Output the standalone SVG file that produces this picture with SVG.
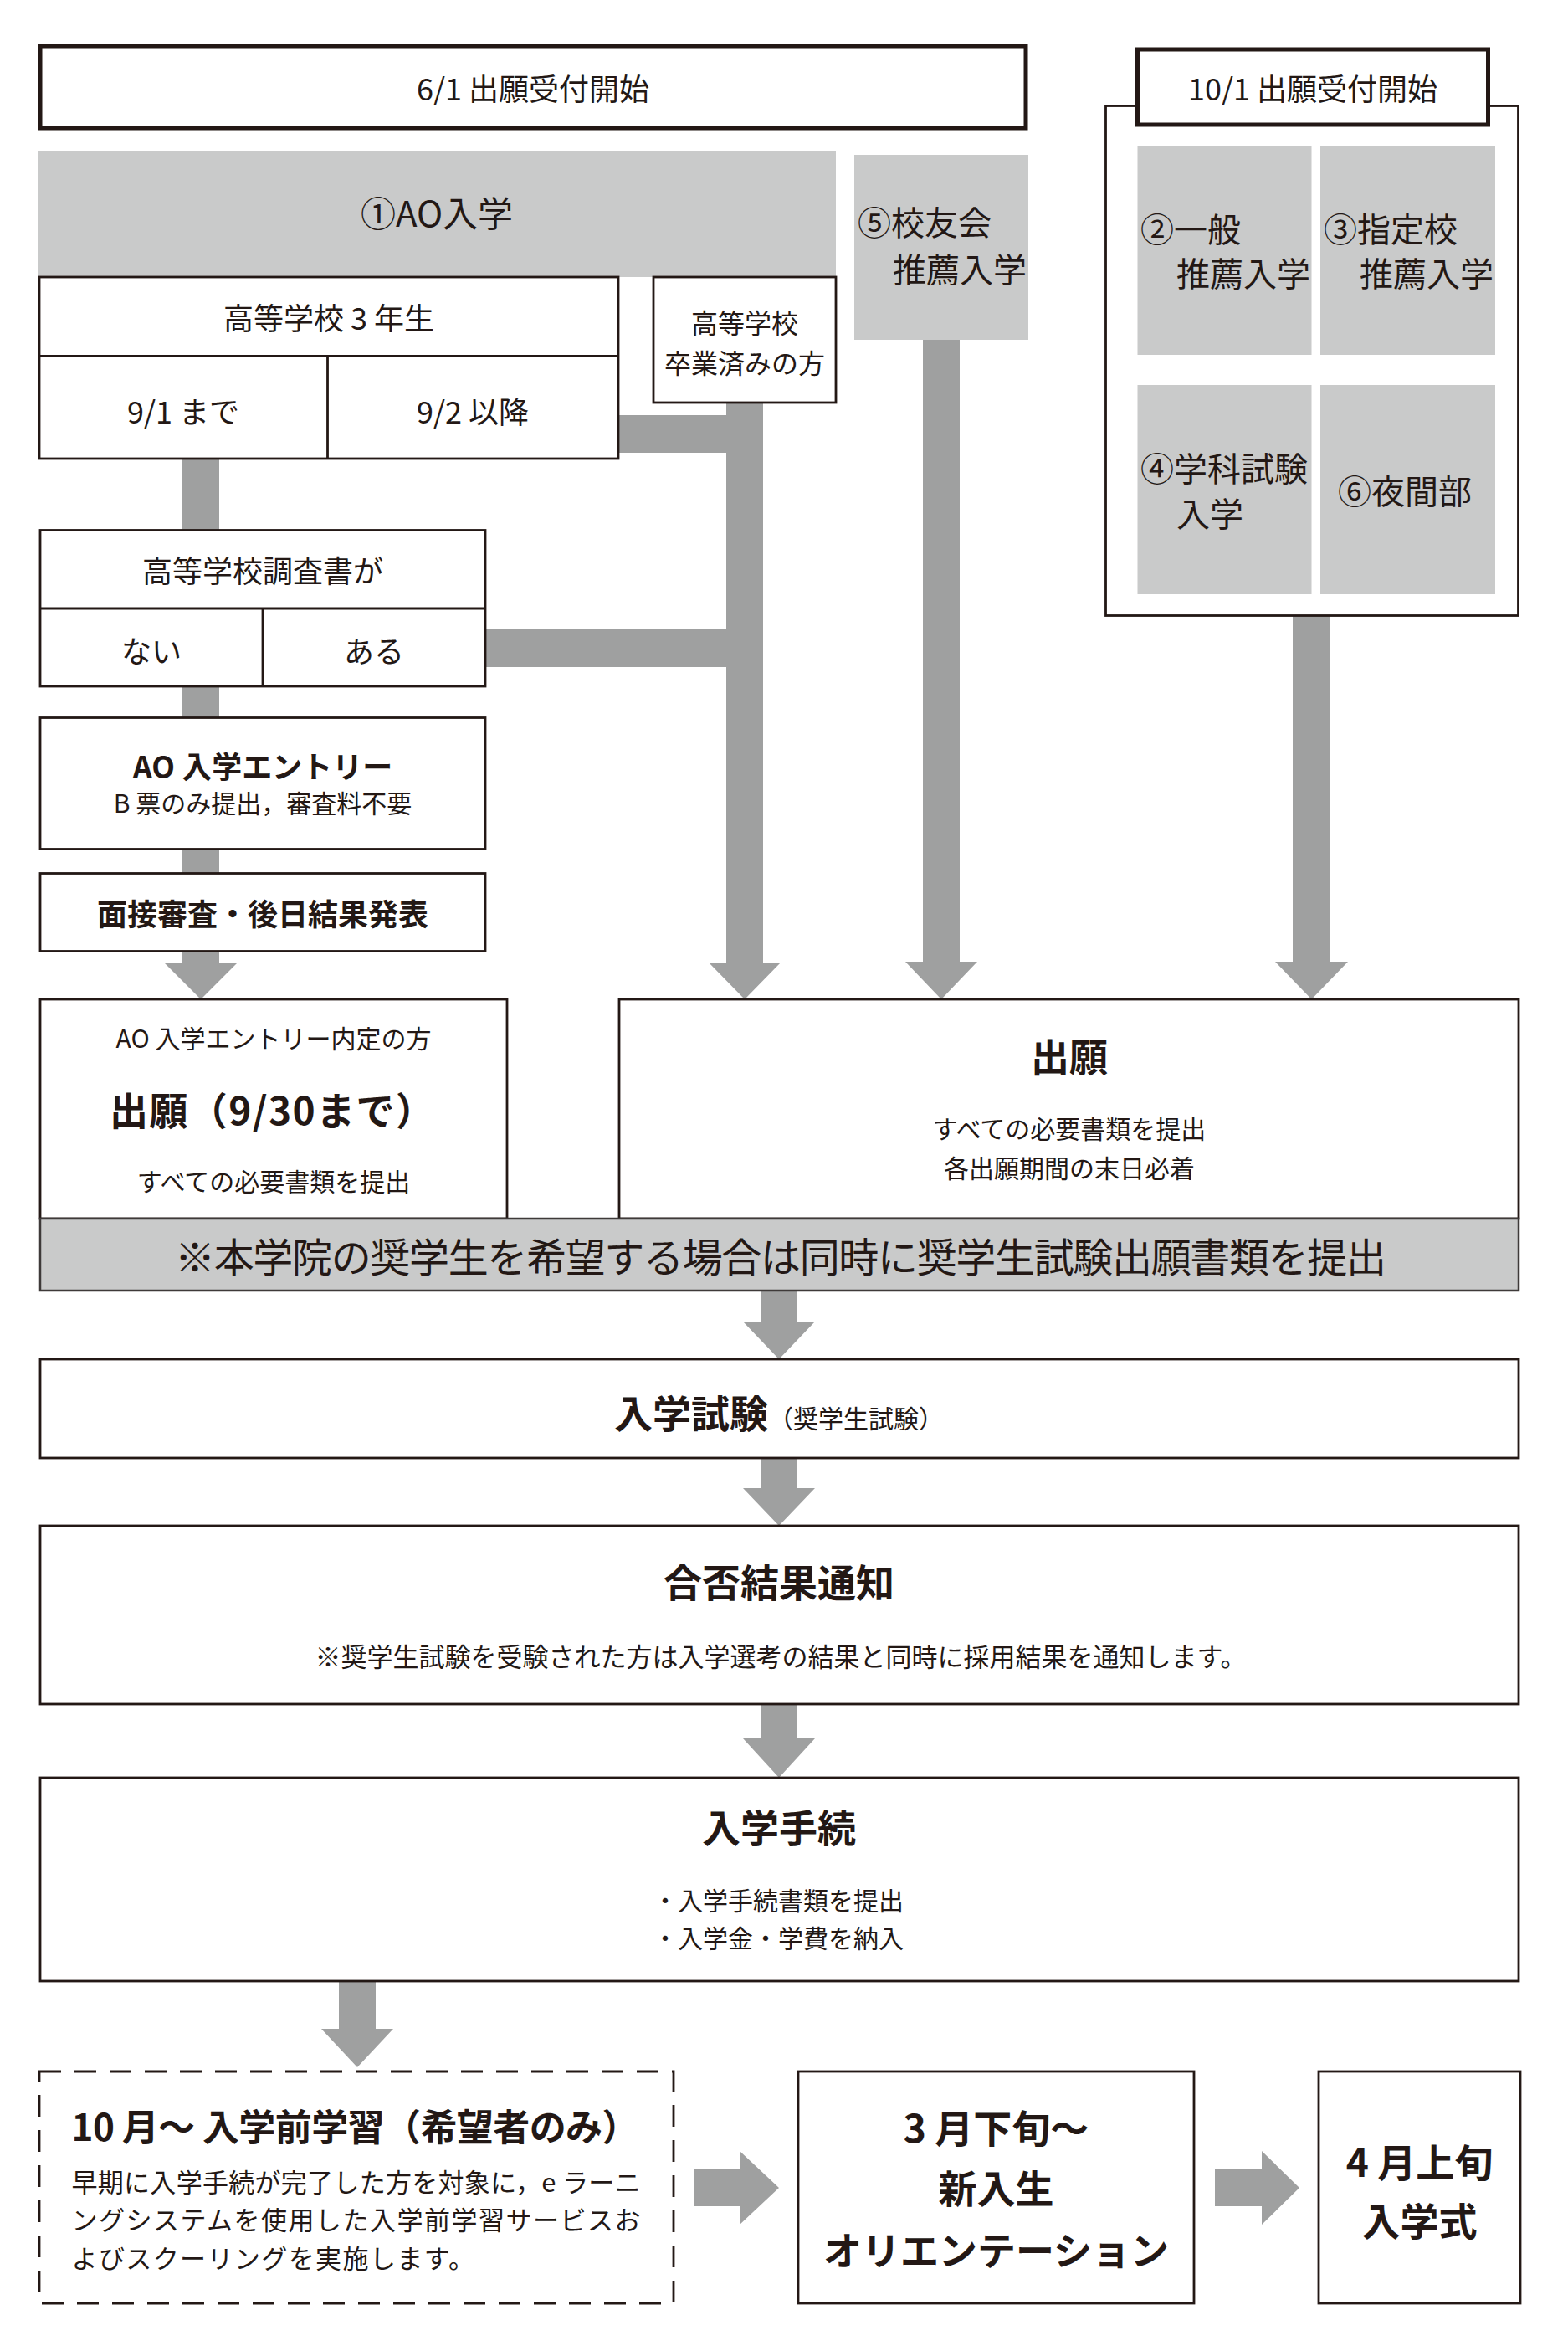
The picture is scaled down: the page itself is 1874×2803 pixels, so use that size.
<svg xmlns="http://www.w3.org/2000/svg" width="1874" height="2803" viewBox="0 0 1874 2803">
<style>
text{font-family:"Noto Sans CJK JP","Noto Sans CJK SC",sans-serif;fill:#231815}
.c{text-anchor:middle}
.box{fill:#fff;stroke:#231815;stroke-width:2.8}
.thick{fill:#fff;stroke:#231815;stroke-width:5}
.gray{fill:#c9caca}
.ln{stroke:#231815;stroke-width:2.8;fill:none}
.conn{fill:#9fa0a0}
.f30{font-size:30px}
.f31{font-size:31px}
.f32{font-size:32px}
.f36{font-size:36px}
.f40{font-size:40px}
.f42{font-size:42px}
.f46{font-size:46px}
.b{font-weight:700}
.sb{font-weight:600}
</style>
<rect width="1874" height="2803" fill="#fff"/>
<g id="connectors">
<rect class="conn" x="218" y="547" width="44" height="88"/>
<rect class="conn" x="737" y="496" width="133" height="45"/>
<path class="conn" d="M868,479 H912 V1150 H933 L890,1194 L847,1150 H868 Z"/>
<rect class="conn" x="578" y="752" width="292" height="45"/>
<rect class="conn" x="218" y="818" width="44" height="41"/>
<rect class="conn" x="218" y="1013" width="44" height="32"/>
<path class="conn" d="M218,1135 H262 V1150 H284 L240,1194 L196,1150 H218 Z"/>
<path class="conn" d="M1103,406 H1147 V1149 H1168 L1125,1194 L1082,1149 H1103 Z"/>
<path class="conn" d="M1545,735 H1590 V1149 H1611 L1567.5,1194 L1524,1149 H1545 Z"/>
<path class="conn" d="M909,1542 H953 V1579 H974 L931,1624 L888,1579 H909 Z"/>
<path class="conn" d="M909,1742 H953 V1778 H974 L931,1823 L888,1778 H909 Z"/>
<path class="conn" d="M909,2036 H953 V2077 H974 L931,2124 L888,2077 H909 Z"/>
<path class="conn" d="M405,2367 H449 V2424 H470 L427,2470 L384,2424 H405 Z"/>
<path class="conn" d="M829,2591 H884 V2570 L931,2614 L884,2658 V2636 H829 Z"/>
<path class="conn" d="M1452,2592 H1508 V2570 L1553,2614 L1508,2658 V2636 H1452 Z"/>
</g>
<g id="start61">
<rect class="thick" x="48" y="55" width="1178" height="98"/>
<text class="c f36" x="637" y="120">6/1 出願受付開始</text>
</g>
<g id="ao">
<rect class="gray" x="45" y="181" width="954" height="150"/>
<text class="c f42" x="522" y="271">①AO入学</text>
</g>
<g id="grade3">
<rect class="box" x="47" y="331" width="692" height="217"/>
<line class="ln" x1="47" y1="425.5" x2="739" y2="425.5"/>
<line class="ln" x1="391.5" y1="425.5" x2="391.5" y2="548"/>
<text class="c f36" x="393" y="394">高等学校 3 年生</text>
<text class="c f36" x="219" y="506">9/1 まで</text>
<text class="c f36" x="565" y="506">9/2 以降</text>
</g>
<g id="graduate">
<rect class="box" x="781" y="331" width="218" height="150"/>
<text class="c f32" x="890" y="398">高等学校</text>
<text class="c f32" x="890" y="446">卒業済みの方</text>
</g>
<g id="alumni">
<rect class="gray" x="1021" y="185" width="208" height="221"/>
<text class="f40" x="1025" y="281">⑤校友会</text>
<text class="f40" x="1067" y="337">推薦入学</text>
</g>
<g id="start101">
<rect class="box" x="1321.5" y="126.5" width="493" height="609"/>
<rect class="thick" x="1359.5" y="59" width="419" height="90"/>
<text class="c f36" x="1569" y="120">10/1 出願受付開始</text>
<rect class="gray" x="1359.5" y="175" width="208" height="249"/>
<rect class="gray" x="1578" y="175" width="209" height="249"/>
<rect class="gray" x="1359.5" y="460" width="208" height="250"/>
<rect class="gray" x="1578" y="460" width="209" height="250"/>
<text class="f40" x="1363" y="289">②一般</text>
<text class="f40" x="1406" y="342">推薦入学</text>
<text class="f40" x="1582" y="289">③指定校</text>
<text class="f40" x="1625" y="342">推薦入学</text>
<text class="f40" x="1363" y="575">④学科試験</text>
<text class="f40" x="1406" y="629">入学</text>
<text class="f40" x="1599" y="602">⑥夜間部</text>
</g>
<g id="report">
<rect class="box" x="48" y="633.5" width="532" height="186.5"/>
<line class="ln" x1="48" y1="727" x2="580" y2="727"/>
<line class="ln" x1="314" y1="727" x2="314" y2="820"/>
<text class="c f36" x="314" y="696">高等学校調査書が</text>
<text class="c f36" x="181" y="792">ない</text>
<text class="c f36" x="447" y="792">ある</text>
</g>
<g id="entry">
<rect class="box" x="48" y="857.5" width="532" height="157"/>
<text class="c f36 sb" x="314" y="930">AO 入学エントリー</text>
<text class="c f30" x="314" y="971">B 票のみ提出，審査料不要</text>
</g>
<g id="interview">
<rect class="box" x="48" y="1043.5" width="532" height="93"/>
<text class="c f36 sb" x="314" y="1106">面接審査・後日結果発表</text>
</g>
<g id="apply-ao">
<rect class="box" x="48" y="1194" width="558" height="262"/>
<text class="c f30" x="327" y="1252">AO 入学エントリー内定の方</text>
<text class="c f46 b" x="325" y="1344" textLength="388" lengthAdjust="spacing">出願（9/30まで）</text>
<text class="c f30" x="327" y="1423">すべての必要書類を提出</text>
</g>
<g id="apply">
<rect class="box" x="740" y="1194" width="1075" height="262"/>
<text class="c f46 b" x="1278" y="1280">出願</text>
<text class="c f30" x="1278" y="1360">すべての必要書類を提出</text>
<text class="c f30" x="1278" y="1407">各出願期間の末日必着</text>
</g>
<g id="scholarship">
<rect class="gray" x="48" y="1456" width="1767" height="86" stroke="#3e3a39" stroke-width="2.5"/>
<text class="c" style="font-size:48px" x="933" y="1520" textLength="1448" lengthAdjust="spacing">※本学院の奨学生を希望する場合は同時に奨学生試験出願書類を提出</text>
</g>
<g id="exam">
<rect class="box" x="48" y="1624" width="1767" height="118"/>
<text class="c" x="931" y="1706"><tspan class="f46 b">入学試験</tspan><tspan class="f30">（奨学生試験）</tspan></text>
</g>
<g id="result">
<rect class="box" x="48" y="1823" width="1767" height="213"/>
<text class="c f46 b" x="931" y="1908">合否結果通知</text>
<text class="c f31" x="933" y="1991">※奨学生試験を受験された方は入学選考の結果と同時に採用結果を通知します。</text>
</g>
<g id="procedure">
<rect class="box" x="48" y="2124" width="1767" height="243"/>
<text class="c f46 b" x="931" y="2201">入学手続</text>
<text class="f30" x="780" y="2282">・入学手続書類を提出</text>
<text class="f30" x="780" y="2327">・入学金・学費を納入</text>
</g>
<g id="prestudy">
<rect x="47" y="2475" width="758" height="277" fill="#fff" stroke="#231815" stroke-width="2.8" stroke-dasharray="26 16"/>
<text class="b" style="font-size:44px" x="85.5" y="2558" textLength="678" lengthAdjust="spacing">10 月〜 入学前学習（希望者のみ）</text>
<text class="f31" x="85.5" y="2619" textLength="680" lengthAdjust="spacing">早期に入学手続が完了した方を対象に，e ラーニ</text>
<text class="f31" x="85.5" y="2664" textLength="680" lengthAdjust="spacing">ングシステムを使用した入学前学習サービスお</text>
<text class="f31" x="85.5" y="2710" style="letter-spacing:1.4px">よびスクーリングを実施します。</text>
</g>
<g id="orientation">
<rect class="box" x="954" y="2475" width="473" height="277"/>
<text class="c f46 b" x="1190.5" y="2560">3 月下旬〜</text>
<text class="c f46 b" x="1190.5" y="2632">新入生</text>
<text class="c f46 b" x="1190.5" y="2706">オリエンテーション</text>
</g>
<g id="ceremony">
<rect class="box" x="1576" y="2475" width="241" height="277"/>
<text class="c f46 b" x="1696.5" y="2601">4 月上旬</text>
<text class="c f46 b" x="1696.5" y="2671">入学式</text>
</g>
</svg>
